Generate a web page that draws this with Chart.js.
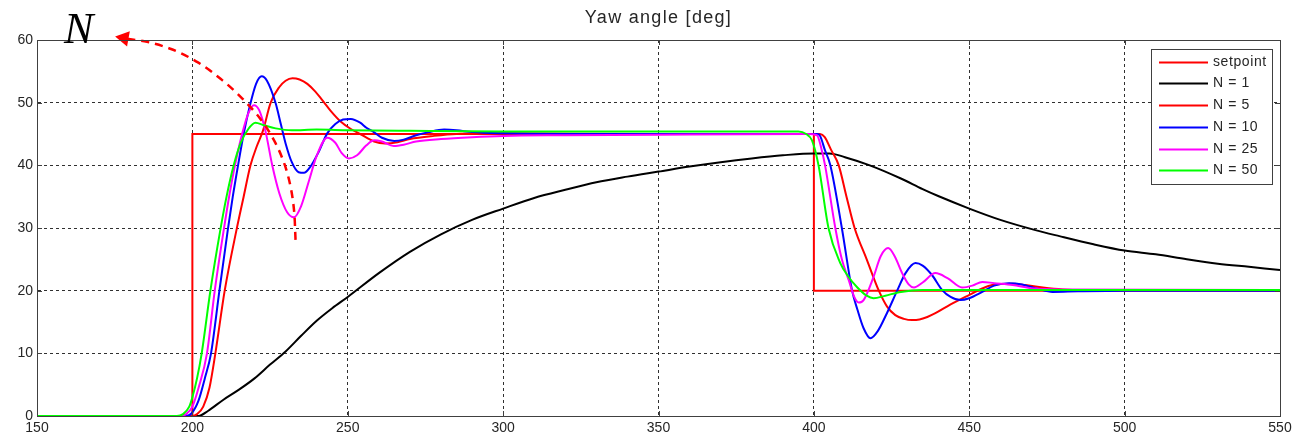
<!DOCTYPE html>
<html>
<head>
<meta charset="utf-8">
<title>Yaw angle</title>
<script src="https://cdn.jsdelivr.net/npm/chart.js@4.4.1/dist/chart.umd.min.js"></script>
<style>
  html, body { margin: 0; padding: 0; background: #fff; }
  canvas { display: block; }
</style>
</head>
<body>
<canvas id="yaw-chart" width="1296" height="441"></canvas>
<script>
// Yaw angle step response for several filter orders N

const X_TICKS = [150, 200, 250, 300, 350, 400, 450, 500, 550];
const Y_TICKS = [0, 10, 20, 30, 40, 50, 60];

const setpointT = [150, 200, 200, 400, 400, 550];
const setpointY = [0, 0, 45, 45, 20, 20];

const n1T = [150, 202, 205, 210, 215, 220, 225, 230, 235, 240, 245, 250, 260, 270, 280, 290, 300, 310, 320, 330, 340, 350, 360, 370, 380, 390, 400, 405, 410, 418, 428, 435, 440, 450, 460, 471, 479, 490, 500, 510, 520, 530, 540, 550];
const n1Y = [0, 0, 0.8, 2.6, 4.2, 6, 8.2, 10.3, 12.8, 15.2, 17.2, 19, 22.8, 26.2, 29, 31.3, 33.1, 34.8, 36.1, 37.3, 38.2, 39, 39.8, 40.5, 41.1, 41.6, 41.9, 41.9, 41.3, 40, 37.9, 36.2, 35.1, 33.1, 31.3, 29.7, 28.7, 27.4, 26.4, 25.8, 25, 24.3, 23.8, 23.3];

const n5T = [150, 200, 201.5, 203.5, 205.5, 207.4, 210.4, 214.2, 216.5, 218.7, 220.7, 222.7, 225.2, 228, 230, 232.2, 234.5, 237, 239.5, 241.8, 244.5, 247.7, 251, 254, 258.5, 262, 266, 270, 277.8, 285, 300, 350, 402, 403.5, 405.5, 408, 410.5, 413.1, 417, 420.9, 423.5, 426.2, 429, 431.6, 434, 436.5, 439.1, 444, 449.9, 454, 457.4, 464, 468, 473.7, 480, 490, 550];
const n5Y = [0, 0, 0.3, 1.5, 4.5, 10, 20, 29.7, 35, 40, 43, 45.5, 50, 52.5, 53.5, 53.9, 53.7, 53, 51.8, 50.4, 48.7, 47, 45.8, 45, 43.8, 43.5, 43.7, 44.2, 44.7, 45, 45.1, 45, 45, 44.5, 42.5, 40, 35, 30, 25, 20, 17.5, 16.1, 15.5, 15.3, 15.4, 15.8, 16.4, 17.8, 19.3, 20.3, 20.9, 21.1, 20.9, 20.5, 20.2, 20.1, 20];

const n10T = [150, 198, 199.7, 202, 204, 206, 208.7, 211.4, 213, 214.7, 216.5, 218.5, 220.5, 222.3, 224, 226.8, 228.5, 230, 232, 234.2, 235.9, 238, 240.5, 243.4, 246, 248.5, 251, 254, 256, 258.4, 261, 265, 268, 272, 276, 281, 285, 290, 300, 320, 401, 402, 403.5, 405.3, 409, 412.3, 414, 416, 418.2, 420.5, 423.5, 426.8, 429.5, 432.7, 435, 438, 441.3, 444, 447.2, 450, 454.2, 458, 462.8, 467, 472, 476.8, 485, 500, 550];
const n10Y = [0, 0, 0.4, 2.5, 6, 10, 20, 29.7, 35, 40, 45, 49.5, 53, 54.2, 53.5, 49.9, 46.5, 43.5, 40.5, 38.9, 38.8, 39.8, 42, 45.1, 46.6, 47.3, 47.4, 46.8, 46, 45.3, 44.4, 43.9, 44.1, 44.8, 45.3, 45.7, 45.6, 45.3, 45.1, 45, 45, 44.7, 42.5, 40, 30, 20, 17, 14, 12.4, 13.5, 16.4, 20, 22.8, 24.4, 24, 22.5, 20.1, 19, 18.5, 18.8, 19.8, 20.8, 21.2, 21, 20.3, 19.8, 19.9, 20, 20];

const n25T = [150, 196, 198, 200, 202, 204.7, 207.2, 210.1, 212, 213.7, 216, 218, 219.8, 221.5, 223.5, 225.7, 228, 230.5, 232.7, 235, 237.5, 240, 243.4, 246, 248, 250.4, 253, 256, 258.5, 261, 264.8, 268, 272, 280, 290, 300, 320, 350, 398, 401, 402.5, 403.6, 406.9, 409, 411.2, 413, 414.4, 416, 419.2, 421.5, 423.9, 426, 428.4, 430.5, 432.2, 435, 439.1, 443, 447.7, 451, 454.2, 458, 464, 470, 480, 550];
const n25Y = [0, 0, 0.3, 1.5, 4.5, 10, 20, 29.7, 35.5, 40, 45, 48.3, 49.6, 48.8, 45.5, 40, 35.5, 32.5, 31.7, 33.5, 37.5, 41.5, 44.4, 43.6, 42, 41.1, 41.6, 43.2, 44, 43.8, 43.1, 43.3, 43.8, 44.2, 44.5, 44.7, 44.8, 44.9, 45, 44.8, 42.5, 40, 30, 25, 21.7, 19, 18.1, 18.5, 22.2, 25.5, 26.8, 25.5, 22.8, 21, 20.5, 21.3, 22.8, 22, 20.5, 20.8, 21.4, 21.2, 20.9, 20.4, 20.2, 20.1];

const n50T = [150, 195, 197, 199, 200, 201.5, 203, 205.8, 209, 211, 213.3, 215.5, 218, 220.3, 223, 226.8, 232, 240, 250, 270, 300, 395, 397.5, 399.4, 401.5, 404.7, 408.5, 411, 414, 417, 419.2, 423, 428, 435, 550];
const n50Y = [0, 0, 0.3, 1.5, 3, 6, 10, 20, 29.7, 35, 40, 43.5, 45.8, 46.8, 46.4, 45.9, 45.6, 45.7, 45.6, 45.5, 45.4, 45.4, 45, 44, 40, 30, 24.4, 22.3, 20.5, 19.2, 18.8, 19.2, 19.8, 20.1, 20.1];

// dashed "increasing N" arrow, from its tail (bottom) up to the head
const arrowT = [233.2, 232.7, 231.6, 229.7, 226.8, 221.9, 216, 209.6, 201.5, 192.9, 185.4, 178];
const arrowY = [28.1, 32.9, 36.6, 40.1, 43.5, 47.4, 50.7, 53.6, 56.5, 58.6, 59.7, 60.3];

const SERIES = [
  { label: 'setpoint', t: setpointT, y: setpointY, color: '#ff0000', order: 6 },
  { label: 'N = 1',    t: n1T,  y: n1Y,  color: '#000000', order: 5 },
  { label: 'N = 5',    t: n5T,  y: n5Y,  color: '#ff0000', order: 4 },
  { label: 'N = 10',   t: n10T, y: n10Y, color: '#0000ff', order: 3 },
  { label: 'N = 25',   t: n25T, y: n25Y, color: '#ff00ff', order: 2 },
  { label: 'N = 50',   t: n50T, y: n50Y, color: '#00ff00', order: 1 },
];

const FONT = '"Liberation Sans", Arial, sans-serif';
const TEXT_COLOR = '#262626';
const FRAME_COLOR = '#404040';

function toPoints(t, y) {
  return t.map((x, i) => ({ x, y: y[i] }));
}

const datasets = SERIES.map((s, i) => ({
  label: s.label,
  data: toPoints(s.t, s.y),
  borderColor: s.color,
  borderWidth: 2,
  pointRadius: 0,
  fill: false,
  order: s.order,
  cubicInterpolationMode: i === 0 ? 'default' : 'monotone',
  tension: 0,
}));

// y rises steadily along the arrow, so interpolate along y for a smooth arc
datasets.push({
  label: 'arrow',
  data: toPoints(arrowT, arrowY),
  indexAxis: 'y',
  cubicInterpolationMode: 'monotone',
  borderColor: '#ff0000',
  backgroundColor: '#ff0000',
  borderWidth: 2.5,
  borderDash: [8, 6],
  fill: false,
  clip: false,
  order: 0,
  pointRadius: arrowT.map((_, i) => (i === arrowT.length - 1 ? 9 : 0)),
  pointStyle: 'triangle',
  pointRotation: 280,
  pointBorderWidth: 0,
});

const decorPlugin = {
  id: 'decor',
  afterDatasetsDraw(chart) {
    const { ctx, chartArea: a, scales } = chart;
    ctx.save();
    ctx.setLineDash([]);
    ctx.strokeStyle = FRAME_COLOR;
    ctx.lineWidth = 1;
    ctx.strokeRect(Math.round(a.left) + 0.5, Math.round(a.top) + 0.5,
      Math.round(a.right - a.left), Math.round(a.bottom - a.top));
    // inward ticks on all four sides
    const len = 5;
    ctx.beginPath();
    X_TICKS.forEach(v => {
      const px = Math.round(scales.x.getPixelForValue(v)) + 0.5;
      ctx.moveTo(px, a.bottom); ctx.lineTo(px, a.bottom - len);
      ctx.moveTo(px, a.top); ctx.lineTo(px, a.top + len);
    });
    Y_TICKS.forEach(v => {
      const py = Math.round(scales.y.getPixelForValue(v)) + 0.5;
      ctx.moveTo(a.left, py); ctx.lineTo(a.left + len, py);
      ctx.moveTo(a.right, py); ctx.lineTo(a.right - len, py);
    });
    ctx.stroke();
    ctx.restore();
  },
  afterDraw(chart) {
    const { ctx, chartArea: a } = chart;
    ctx.save();
    ctx.setLineDash([]);

    // title
    ctx.fillStyle = TEXT_COLOR;
    ctx.font = '18px ' + FONT;
    ctx.textAlign = 'center';
    ctx.textBaseline = 'middle';
    ctx.letterSpacing = '1.3px';
    ctx.fillText('Yaw angle [deg]', (a.left + a.right) / 2, 18);
    ctx.letterSpacing = '0px';

    // N label next to the arrow
    ctx.fillStyle = '#000';
    ctx.font = 'italic 44px "Liberation Serif", "Times New Roman", serif';
    ctx.textAlign = 'left';
    ctx.textBaseline = 'alphabetic';
    ctx.fillText('N', 64, 43);

    // legend box
    const box = { left: 1151, top: 49, right: 1272, bottom: 184 };
    ctx.fillStyle = '#fff';
    ctx.fillRect(box.left, box.top, box.right - box.left, box.bottom - box.top);
    ctx.strokeStyle = FRAME_COLOR;
    ctx.lineWidth = 1;
    ctx.strokeRect(box.left + 0.5, box.top + 0.5, box.right - box.left, box.bottom - box.top);
    ctx.font = '14px ' + FONT;
    ctx.textBaseline = 'middle';
    ctx.letterSpacing = '0.6px';
    SERIES.forEach((s, i) => {
      const y = Math.round(61.7 + i * 21.7) + 0.5;
      ctx.strokeStyle = s.color;
      ctx.lineWidth = 2;
      ctx.beginPath();
      ctx.moveTo(1159, y);
      ctx.lineTo(1208, y);
      ctx.stroke();
      ctx.fillStyle = TEXT_COLOR;
      ctx.fillText(s.label, 1213, y);
    });
    ctx.letterSpacing = '0px';
    ctx.restore();
  },
};

const gridOpts = {
  color: '#303030',
  lineWidth: 1,
  drawTicks: false,
};

new Chart(document.getElementById('yaw-chart'), {
  type: 'line',
  data: { datasets },
  options: {
    responsive: false,
    animation: false,
    devicePixelRatio: 1,
    layout: { padding: { top: 40, right: 16, left: 0, bottom: 0 } },
    plugins: {
      legend: { display: false },
      title: { display: false },
      tooltip: { enabled: false },
    },
    scales: {
      x: {
        type: 'linear',
        min: 150,
        max: 550,
        afterBuildTicks: scale => { scale.ticks = X_TICKS.map(v => ({ value: v })); },
        afterFit: scale => { scale.height = 25; },
        ticks: { color: TEXT_COLOR, font: { family: FONT, size: 14 }, padding: 4, maxRotation: 0 },
        grid: gridOpts,
        border: { display: true, color: FRAME_COLOR, dash: [3, 3] },
      },
      y: {
        type: 'linear',
        min: 0,
        max: 60,
        afterBuildTicks: scale => { scale.ticks = Y_TICKS.map(v => ({ value: v })); },
        afterFit: scale => { scale.width = 37; },
        ticks: { color: TEXT_COLOR, font: { family: FONT, size: 14 }, padding: 4 },
        grid: gridOpts,
        border: { display: true, color: FRAME_COLOR, dash: [3, 3] },
      },
    },
  },
  plugins: [decorPlugin],
});
</script>
</body>
</html>
